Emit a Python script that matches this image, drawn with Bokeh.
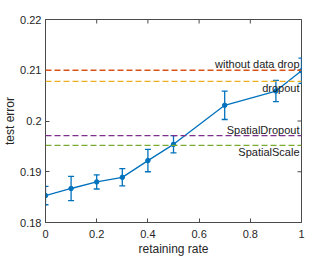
from bokeh.plotting import figure
from bokeh.models import ColumnDataSource, Whisker, TeeHead, Range1d, FixedTicker, Span, Label
from bokeh.embed import file_html
from bokeh.resources import INLINE

# data
rate = [0.0, 0.1, 0.2, 0.3, 0.4, 0.5, 0.7, 0.9, 1.0]
err_mean = [0.1853, 0.1867, 0.1880, 0.1889, 0.1922, 0.1954, 0.2031, 0.2059, 0.2099]
err_std = [0.0018, 0.0024, 0.0014, 0.0017, 0.0022, 0.0017, 0.0028, 0.0021, 0.0025]

ref_names = ["without data drop", "dropout", "SpatialDropout", "SpatialScale"]
ref_values = [0.2100, 0.2078, 0.1971, 0.1952]
ref_colors = ["#D95319", "#EDB120", "#7E2F8E", "#77AC30"]
ref_text_above = [True, False, True, False]

x_ticks = [0, 0.2, 0.4, 0.6, 0.8, 1]
y_ticks = [0.18, 0.19, 0.2, 0.21, 0.22]
x_tick_labels = {0: "0", 0.2: "0.2", 0.4: "0.4", 0.6: "0.6", 0.8: "0.8", 1: "1"}
y_tick_labels = {0.18: "0.18", 0.19: "0.19", 0.2: "0.2", 0.21: "0.21", 0.22: "0.22"}

FONT = "Liberation Sans"
TXT = "#262626"
AX = "#4a4a4a"

p = figure(width=332, height=258, output_backend="svg", toolbar_location=None,
           x_range=Range1d(0, 1), y_range=Range1d(0.18, 0.22),
           x_axis_label="retaining rate", y_axis_label="test error",
           min_border_left=45, min_border_right=31, min_border_top=19, min_border_bottom=35)
p.outline_line_color = AX
p.outline_line_width = 1
p.xgrid.visible = False
p.ygrid.visible = False
p.background_fill_color = "white"
p.border_fill_color = "white"

def style_axis(ax, ticks, overrides):
    ax.ticker = FixedTicker(ticks=ticks)
    ax.major_label_overrides = overrides
    ax.minor_tick_line_color = None
    ax.major_tick_in = 4
    ax.major_tick_out = 0
    ax.axis_line_color = AX
    ax.major_tick_line_color = AX
    ax.major_label_text_font = FONT
    ax.major_label_text_font_size = "11px"
    ax.major_label_text_color = TXT
    ax.axis_label_text_font = FONT
    ax.axis_label_text_font_size = "12px"
    ax.axis_label_text_font_style = "normal"
    ax.axis_label_text_color = TXT

style_axis(p.xaxis[0], x_ticks, x_tick_labels)
style_axis(p.yaxis[0], y_ticks, y_tick_labels)
p.xaxis[0].major_label_standoff = 7
p.xaxis[0].axis_label_standoff = 1
p.yaxis[0].major_label_standoff = 4
p.yaxis[0].axis_label_standoff = 0

# inward ticks on the top and right box edges (half of each dash is clipped by the frame)
p.scatter(x=x_ticks, y=[y_ticks[-1]] * len(x_ticks), marker="dash", angle=1.5708,
          size=8, line_color=AX, line_width=1)
p.scatter(x=[x_ticks[-1]] * len(y_ticks), y=y_ticks, marker="dash", angle=0,
          size=8, line_color=AX, line_width=1)

# reference lines and labels
for name, val, col, above in zip(ref_names, ref_values, ref_colors, ref_text_above):
    p.add_layout(Span(location=val, dimension="width", line_color=col,
                      line_width=1.3, line_dash="6 3"))
    p.add_layout(Label(x=1, y=val, text=name, text_align="right",
                       text_baseline="bottom" if above else "top",
                       x_offset=-2, y_offset=0 if above else -1,
                       text_font=FONT, text_font_size="11px", text_color="#1a1a1a"))

src = ColumnDataSource(dict(x=rate, y=err_mean,
                            lo=[m - s for m, s in zip(err_mean, err_std)],
                            hi=[m + s for m, s in zip(err_mean, err_std)]))
BLUE = "#0072BD"
p.add_layout(Whisker(source=src, base="x", lower="lo", upper="hi",
                     line_color=BLUE, line_width=1.3,
                     upper_head=TeeHead(size=6, line_color=BLUE, line_width=1.3),
                     lower_head=TeeHead(size=6, line_color=BLUE, line_width=1.3)))
p.line("x", "y", source=src, line_color=BLUE, line_width=1.3)
p.scatter("x", "y", source=src, size=4.5, fill_color=BLUE, line_color=BLUE)

open("out.html", "w").write(file_html(p, INLINE))
